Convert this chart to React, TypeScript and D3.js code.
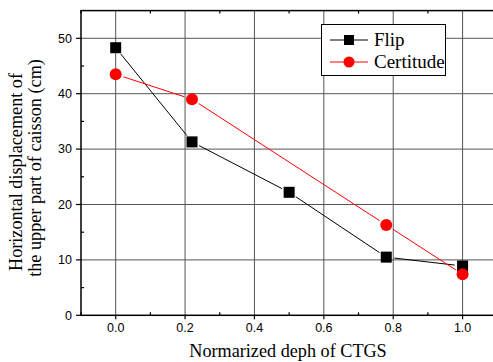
import React from "react"
import * as d3 from "d3"

const flipX = [0, 0.22, 0.5, 0.78, 1.0]
const flipY = [48.3, 31.3, 22.2, 10.5, 8.9]
const certX = [0, 0.22, 0.78, 1.0]
const certY = [43.5, 39.0, 16.3, 7.4]
const xTicks = [0, 0.2, 0.4, 0.6, 0.8, 1.0]
const yTicks = [0, 10, 20, 30, 40, 50]
const xMinor = [-0.1, 0.1, 0.3, 0.5, 0.7, 0.9]
const yMinor = [5, 15, 25, 35, 45]

const W = 493
const H = 362
const left = 81
const top = 10.6
const bottom = 315.3
const serif = "'Liberation Serif', 'Times New Roman', Times, serif"

// shorten each segment so the line stops short of the markers
function gapSegments(pts: [number, number][], gap: number) {
  const segs: string[] = []
  for (let i = 0; i < pts.length - 1; i++) {
    const [x1, y1] = pts[i]
    const [x2, y2] = pts[i + 1]
    const len = Math.hypot(x2 - x1, y2 - y1)
    if (len <= gap * 2) continue
    const ux = (x2 - x1) / len
    const uy = (y2 - y1) / len
    segs.push(`M${x1 + ux * gap},${y1 + uy * gap}L${x2 - ux * gap},${y2 - uy * gap}`)
  }
  return segs.join("")
}

export default function App() {
  const x = d3.scaleLinear().domain([-0.1, 1.1]).range([left, left + 346.9 * 1.2])
  const y = d3.scaleLinear().domain([0, 55]).range([bottom, top])
  const right = x(1.1)

  const flipPts: [number, number][] = flipX.map((v, i) => [x(v), y(flipY[i])])
  const certPts: [number, number][] = certX.map((v, i) => [x(v), y(certY[i])])

  return (
    <div style={{ position: "absolute", left: 0, top: 0 }}>
      <svg width={W} height={H} style={{ display: "block", background: "#fff" }}>
        {/* grid */}
        <g stroke="#555" strokeWidth={1}>
          {xTicks.map(t => (
            <line key={"gx" + t} x1={x(t)} x2={x(t)} y1={top} y2={bottom} />
          ))}
          {yTicks.slice(1).map(t => (
            <line key={"gy" + t} x1={left} x2={right} y1={y(t)} y2={y(t)} />
          ))}
        </g>

        {/* ticks */}
        <g stroke="#000" strokeWidth={1.2}>
          {yTicks.map(t => (
            <line key={"yt" + t} x1={left - 5} x2={left} y1={y(t)} y2={y(t)} />
          ))}
          {yMinor.map(t => (
            <line key={"ym" + t} x1={left} x2={left + 3} y1={y(t)} y2={y(t)} />
          ))}
          {xTicks.map(t => (
            <line key={"xt" + t} x1={x(t)} x2={x(t)} y1={bottom} y2={bottom + 4} />
          ))}
          {xMinor.map(t => (
            <line key={"xm" + t} x1={x(t)} x2={x(t)} y1={bottom} y2={bottom - 3} />
          ))}
          {xMinor.map(t => (
            <line key={"xtm" + t} x1={x(t)} x2={x(t)} y1={top} y2={top + 3} />
          ))}
        </g>

        {/* frame */}
        <rect x={left} y={top} width={right - left} height={bottom - top} fill="none" stroke="#000" strokeWidth={1.5} />

        {/* tick labels */}
        <g fontFamily="'Liberation Sans', Arial, sans-serif" fontSize={12.5} fill="#000">
          {yTicks.map(t => (
            <text key={"yl" + t} x={left - 9} y={y(t)} dy="0.35em" textAnchor="end">
              {t}
            </text>
          ))}
          {xTicks.map(t => (
            <text key={"xl" + t} x={x(t)} y={bottom + 17} textAnchor="middle">
              {d3.format(".1f")(t)}
            </text>
          ))}
        </g>

        {/* series lines */}
        <path d={gapSegments(flipPts, 8)} stroke="#000" strokeWidth={1} fill="none" />
        <path d={gapSegments(certPts, 8)} stroke="#ff0000" strokeWidth={1} fill="none" />

        {/* markers */}
        {flipPts.map(([px, py], i) => (
          <rect key={"fm" + i} x={px - 5.5} y={py - 5.5} width={11} height={11} fill="#000" />
        ))}
        {certPts.map(([px, py], i) => (
          <circle key={"cm" + i} cx={px} cy={py} r={6} fill="#ff0000" />
        ))}

        {/* legend */}
        <g>
          <rect x={321.5} y={24.5} width={124} height={51} fill="#fff" stroke="#000" strokeWidth={1} />
          <line x1={330} x2={368} y1={40} y2={40} stroke="#000" strokeWidth={1} />
          <rect x={344} y={35} width={10} height={10} fill="#000" />
          <line x1={330} x2={368} y1={62} y2={62} stroke="#ff0000" strokeWidth={1} />
          <circle cx={349} cy={62} r={5.5} fill="#ff0000" />
          <g style={{ fontFamily: serif }} fontSize={19} fill="#000">
            <text x={374} y={46}>Flip</text>
            <text x={374} y={68}>Certitude</text>
          </g>
        </g>

        {/* axis titles */}
        <g style={{ fontFamily: serif }} fontSize={18.2} fill="#000" textAnchor="middle">
          <text x={288} y={357}>Normarized deph of CTGS</text>
          <text transform={`translate(22,172) rotate(-90)`}>Horizontal displacement of</text>
          <text transform={`translate(41,168) rotate(-90)`}>the upper part of caisson (cm)</text>
        </g>
      </svg>
    </div>
  )
}
